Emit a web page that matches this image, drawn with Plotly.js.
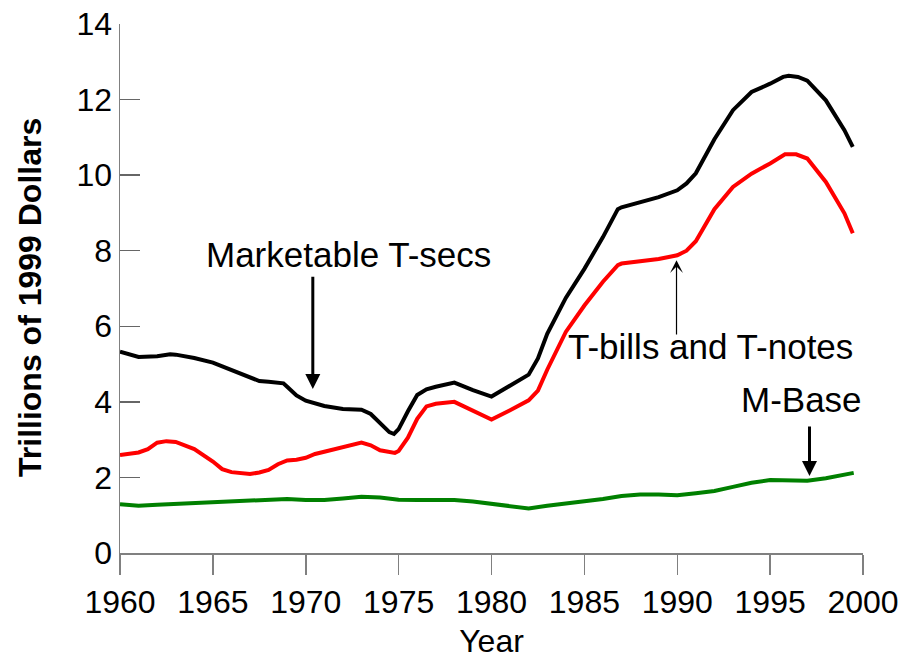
<!DOCTYPE html>
<html>
<head>
<meta charset="utf-8">
<script src="https://cdn.plot.ly/plotly-3.0.1.min.js"></script>
<style>html,body{margin:0;padding:0;background:#fff;}#chart{width:903px;height:659px;}</style>
</head>
<body>
<div id="chart"></div>
<script>
// Marketable Treasury securities (trillions of 1999 dollars)
const tsecYears = [1960,1960.5,1961,1962,1962.7,1963,1964,1965,1966,1967,1967.5,1968,1968.8,1969,1969.5,1970,1971,1972,1973,1973.5,1974,1974.5,1974.75,1975,1975.5,1976,1976.5,1977,1978,1979,1980,1981,1982,1982.5,1983,1984,1985,1986,1986.8,1987,1988,1989,1990,1990.5,1991,1992,1993,1994,1995,1995.7,1996,1996.5,1997,1998,1999,1999.45];
const tsecValues = [5.33,5.25,5.19,5.21,5.26,5.25,5.16,5.04,4.84,4.63,4.55,4.53,4.49,4.40,4.17,4.03,3.89,3.81,3.79,3.68,3.45,3.20,3.15,3.28,3.75,4.18,4.33,4.40,4.51,4.31,4.14,4.42,4.72,5.15,5.80,6.75,7.52,8.36,9.10,9.15,9.29,9.42,9.60,9.78,10.05,10.95,11.72,12.20,12.42,12.60,12.63,12.60,12.50,11.98,11.19,10.75];

// T-bills and T-notes
const billYears = [1960,1961,1961.5,1962,1962.5,1963,1964,1965,1965.5,1966,1967,1967.5,1968,1968.5,1969,1969.5,1970,1970.5,1971,1972,1973,1973.5,1974,1974.8,1975,1975.5,1976,1976.5,1977,1978,1979,1980,1981,1982,1982.5,1983,1984,1985,1986,1986.8,1987,1988,1989,1990,1990.5,1991,1992,1993,1994,1995,1995.8,1996.4,1997,1998,1999,1999.45];
const billValues = [2.59,2.66,2.75,2.92,2.96,2.94,2.75,2.42,2.22,2.14,2.09,2.13,2.20,2.35,2.45,2.47,2.52,2.62,2.68,2.80,2.92,2.85,2.72,2.65,2.70,3.05,3.55,3.88,3.95,4.00,3.76,3.53,3.78,4.04,4.30,4.85,5.85,6.55,7.18,7.62,7.66,7.73,7.78,7.88,8.00,8.25,9.10,9.69,10.04,10.31,10.55,10.55,10.44,9.82,8.99,8.46];

// Monetary base
const baseYears = [1960,1961,1962,1963,1964,1965,1966,1967,1968,1969,1970,1971,1972,1973,1974,1975,1976,1977,1978,1979,1980,1981,1982,1983,1984,1985,1986,1987,1988,1989,1990,1991,1992,1993,1994,1995,1996,1997,1998,1999,1999.5];
const baseValues = [1.29,1.25,1.28,1.30,1.32,1.36,1.38,1.40,1.42,1.43,1.40,1.40,1.44,1.49,1.47,1.41,1.40,1.40,1.40,1.36,1.30,1.23,1.18,1.25,1.31,1.36,1.43,1.51,1.55,1.55,1.53,1.58,1.64,1.75,1.86,1.93,1.93,1.91,1.98,2.06,2.12];

const xTicks = [1960,1965,1970,1975,1980,1985,1990,1995,2000];
const yTicks = [0,2,4,6,8,10,12,14];

const FONT = 'Liberation Sans, Arial, sans-serif';

const traces = [
  {x: tsecYears, y: tsecValues, name: 'Marketable T-secs', type: 'scatter', mode: 'lines', line: {color: '#000000', width: 4}},
  {x: billYears, y: billValues, name: 'T-bills and T-notes', type: 'scatter', mode: 'lines', line: {color: '#ff0000', width: 4}},
  {x: baseYears, y: baseValues, name: 'M-Base', type: 'scatter', mode: 'lines', line: {color: '#008000', width: 4}}
];

const layout = {
  width: 903, height: 659,
  margin: {l: 120, r: 40, t: 24, b: 106},
  paper_bgcolor: '#ffffff', plot_bgcolor: '#ffffff',
  showlegend: false,
  font: {family: FONT, color: '#000000', size: 32},
  xaxis: {
    range: [1960, 2000], tickvals: xTicks, ticktext: xTicks.map(String),
    ticks: 'outside', ticklen: 20, tickwidth: 1.5, tickcolor: '#808080',
    showline: true, linecolor: '#808080', linewidth: 1.5,
    showgrid: false, zeroline: false,
    tickfont: {family: FONT, size: 32, color: '#000000'},
    title: {text: 'Year', font: {family: FONT, size: 32, color: '#000000'}, standoff: 19}
  },
  yaxis: {
    range: [0, 14], tickvals: yTicks, ticktext: yTicks.map(String),
    ticks: 'inside', ticklen: 20, tickwidth: 1.5, tickcolor: '#666666',
    showline: true, linecolor: '#808080', linewidth: 1.5,
    showgrid: false, zeroline: false,
    tickfont: {family: FONT, size: 32, color: '#000000'},
    title: {text: '<b>Trillions of 1999 Dollars</b>&nbsp;&nbsp;', font: {family: FONT, size: 32, color: '#000000'}, standoff: 25}
  },
  annotations: [
    {text: 'Marketable T-secs', x: 1972.29, y: 7.9, xref: 'x', yref: 'y', showarrow: false, font: {family: FONT, size: 35, color: '#000000'}, xanchor: 'center', yanchor: 'middle'},
    {text: '', x: 1970.38, y: 4.34, ax: 1970.38, ay: 7.35, xref: 'x', yref: 'y', axref: 'x', ayref: 'y', showarrow: true, arrowhead: 2, arrowsize: 1, arrowwidth: 3, arrowcolor: '#000000', standoff: 0},
    {text: 'T-bills and T-notes', x: 1991.8, y: 5.46, xref: 'x', yref: 'y', showarrow: false, font: {family: FONT, size: 35, color: '#000000'}, xanchor: 'center', yanchor: 'middle'},
    {text: '', x: 1989.96, y: 7.75, ax: 1989.96, ay: 5.74, xref: 'x', yref: 'y', axref: 'x', ayref: 'y', showarrow: true, arrowhead: 3, arrowsize: 1.8, arrowwidth: 1.2, arrowcolor: '#000000', standoff: 0},
    {text: 'M-Base', x: 1996.71, y: 4.07, xref: 'x', yref: 'y', showarrow: false, font: {family: FONT, size: 35, color: '#000000'}, xanchor: 'center', yanchor: 'middle'},
    {text: '', x: 1997.12, y: 2.04, ax: 1997.12, ay: 3.39, xref: 'x', yref: 'y', axref: 'x', ayref: 'y', showarrow: true, arrowhead: 2, arrowsize: 1, arrowwidth: 3, arrowcolor: '#000000', standoff: 0}
  ]
};

Plotly.newPlot('chart', traces, layout, {displayModeBar: false, staticPlot: true});
</script>
</body>
</html>
